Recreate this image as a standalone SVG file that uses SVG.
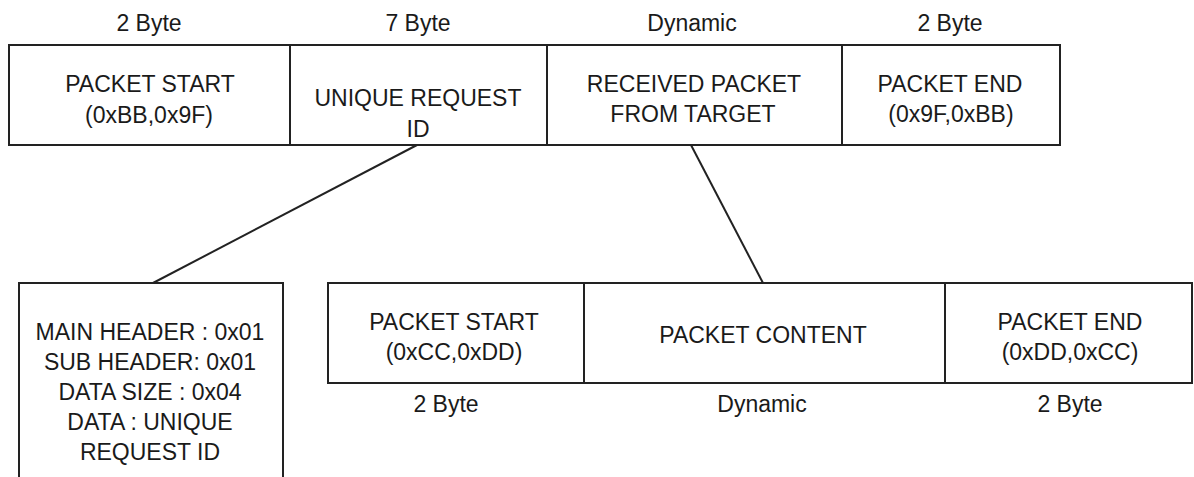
<svg xmlns="http://www.w3.org/2000/svg" width="1194" height="477" viewBox="0 0 1194 477">
  <style>
    .box { fill: #ffffff; stroke: #222222; stroke-width: 2; }
    .sep { stroke: #222222; stroke-width: 2; fill: none; }
    .link { stroke: #222222; stroke-width: 2; fill: none; }
    text { font-family: "Liberation Sans", Arial, sans-serif; font-size: 23px; fill: #1a1a1a; text-anchor: middle; }
  </style>
  <rect width="1194" height="477" fill="#ffffff"/>

  <!-- connectors from the outer packet fields to their breakdowns -->
  <g id="connectors">
    <line class="link" x1="417" y1="145" x2="153" y2="283"/>
    <line class="link" x1="691" y1="145" x2="763" y2="283"/>
  </g>

  <!-- outer packet: sizes above each field -->
  <g id="outer-sizes">
    <text x="149" y="31">2 Byte</text>
    <text x="418" y="31">7 Byte</text>
    <text x="692" y="31">Dynamic</text>
    <text x="950" y="31">2 Byte</text>
  </g>

  <g id="outer-packet">
    <rect class="box" x="9" y="45" width="1051" height="100"/>
    <line class="sep" x1="290" y1="45" x2="290" y2="145"/>
    <line class="sep" x1="547" y1="45" x2="547" y2="145"/>
    <line class="sep" x1="842" y1="45" x2="842" y2="145"/>
  </g>

  <g id="outer-start">
    <text x="150" y="92">PACKET START</text>
    <text x="149" y="123">(0xBB,0x9F)</text>
  </g>

  <g id="outer-request-id">
    <text x="418" y="106">UNIQUE REQUEST</text>
    <text x="418" y="137">ID</text>
  </g>

  <g id="outer-received">
    <text x="694" y="92">RECEIVED PACKET</text>
    <text x="693" y="122">FROM TARGET</text>
  </g>

  <g id="outer-end">
    <text x="950" y="92">PACKET END</text>
    <text x="951" y="122">(0x9F,0xBB)</text>
  </g>

  <!-- request id breakdown -->
  <g id="request-id-detail">
    <path class="box" d="M19 480 V283 H283 V480"/>
    <text x="150" y="340">MAIN HEADER : 0x01</text>
    <text x="150" y="370">SUB HEADER: 0x01</text>
    <text x="150" y="400">DATA SIZE : 0x04</text>
    <text x="150" y="430">DATA : UNIQUE</text>
    <text x="150" y="460">REQUEST ID</text>
  </g>

  <!-- received packet breakdown -->
  <g id="inner-packet">
    <rect class="box" x="328" y="283" width="864" height="100"/>
    <line class="sep" x1="584" y1="283" x2="584" y2="383"/>
    <line class="sep" x1="945" y1="283" x2="945" y2="383"/>
  </g>

  <g id="inner-start">
    <text x="454" y="330">PACKET START</text>
    <text x="454" y="360">(0xCC,0xDD)</text>
  </g>

  <g id="inner-content">
    <text x="763" y="343">PACKET CONTENT</text>
  </g>

  <g id="inner-end">
    <text x="1070" y="330">PACKET END</text>
    <text x="1070" y="360">(0xDD,0xCC)</text>
  </g>

  <g id="inner-sizes">
    <text x="446" y="412">2 Byte</text>
    <text x="762" y="412">Dynamic</text>
    <text x="1070" y="412">2 Byte</text>
  </g>
</svg>
